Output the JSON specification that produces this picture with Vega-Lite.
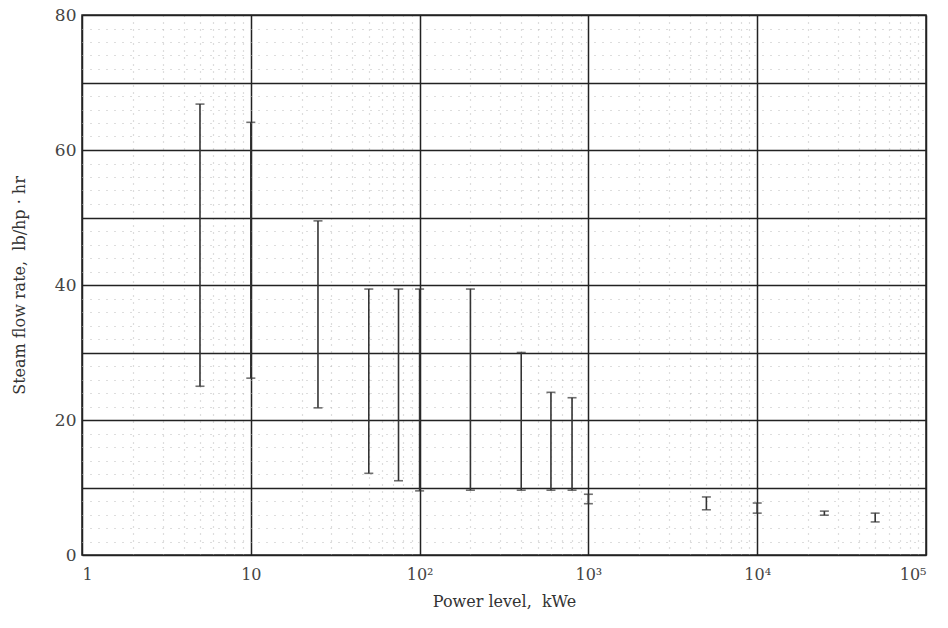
{
  "$schema": "https://vega.github.io/schema/vega-lite/v6.json",
  "width": 844,
  "height": 540,
  "autosize": {"type": "none"},
  "padding": {"left": 82, "top": 15, "right": 22, "bottom": 73},
  "background": "white",
  "config": {
    "view": {"stroke": "#222", "strokeWidth": 1.5},
    "font": "DejaVu Serif",
    "axis": {"labelFont": "DejaVu Serif", "titleFont": "DejaVu Serif", "labelColor": "#444", "titleColor": "#333", "titleFontWeight": "normal"}
  },
  "data": {
    "values": [
      {"power": 5, "lo": 25.0, "hi": 66.8},
      {"power": 10, "lo": 26.2, "hi": 64.1},
      {"power": 25, "lo": 21.8, "hi": 49.5},
      {"power": 50, "lo": 12.1, "hi": 39.4},
      {"power": 75, "lo": 11.0, "hi": 39.4},
      {"power": 100, "lo": 9.5, "hi": 39.4},
      {"power": 200, "lo": 9.6, "hi": 39.4},
      {"power": 400, "lo": 9.6, "hi": 30.0},
      {"power": 600, "lo": 9.6, "hi": 24.1},
      {"power": 800, "lo": 9.6, "hi": 23.3},
      {"power": 1000, "lo": 7.6, "hi": 9.0},
      {"power": 5000, "lo": 6.7, "hi": 8.6},
      {"power": 10000, "lo": 6.2, "hi": 7.7},
      {"power": 25000, "lo": 5.9, "hi": 6.5},
      {"power": 50000, "lo": 4.9, "hi": 6.2}
    ]
  },
  "resolve": {"axis": {"x": "independent", "y": "independent"}},
  "layer": [
    {
      "mark": {"type": "rule", "color": "#888", "strokeWidth": 0},
      "encoding": {
        "x": {"field": "power", "type": "quantitative",
          "scale": {"type": "log", "domain": [1, 100000], "nice": false},
          "axis": {"orient": "bottom", "values": [2,3,4,5,6,7,8,9,20,30,40,50,60,70,80,90,200,300,400,500,600,700,800,900,2000,3000,4000,5000,6000,7000,8000,9000,20000,30000,40000,50000,60000,70000,80000,90000],
            "labels": false, "ticks": false, "domain": false, "title": null,
            "grid": true, "gridColor": "#bbb", "gridDash": [1, 6], "gridWidth": 1.2}},
        "y": {"field": "lo", "type": "quantitative",
          "scale": {"domain": [0, 80], "nice": false},
          "axis": {"orient": "left", "values": [2,4,6,8,12,14,16,18,22,24,26,28,32,34,36,38,42,44,46,48,52,54,56,58,62,64,66,68,72,74,76,78],
            "labels": false, "ticks": false, "domain": false, "title": null,
            "grid": true, "gridColor": "#bbb", "gridDash": [1, 7], "gridWidth": 1.2}}
      }
    },
    {
      "mark": {"type": "rule", "color": "#333", "strokeWidth": 1.6},
      "encoding": {
        "x": {"field": "power", "type": "quantitative",
          "axis": {"orient": "bottom", "values": [1, 10, 100, 1000, 10000, 100000],
            "labelExpr": "datum.value == 1 ? '1' : datum.value == 10 ? '10' : datum.value == 100 ? '10²' : datum.value == 1000 ? '10³' : datum.value == 10000 ? '10⁴' : '10⁵'",
            "labelFontSize": 16, "labelPadding": 11, "ticks": false, "domain": false,
            "grid": true, "gridColor": "#222", "gridWidth": 1.5,
            "title": "Power level,\u00a0 kWe", "titleFontSize": 16, "titlePadding": 11}},
        "y": {"field": "lo", "type": "quantitative",
          "axis": {"orient": "left", "values": [0, 10, 20, 30, 40, 50, 60, 70, 80],
            "labelExpr": "datum.value % 20 == 0 ? datum.label : ''",
            "labelFontSize": 17, "labelPadding": 6, "ticks": false, "domain": false,
            "grid": true, "gridColor": "#222", "gridWidth": 1.5,
            "title": "Steam flow rate,\u00a0 lb/hp · hr", "titleFontSize": 16, "titlePadding": 27}},
        "y2": {"field": "hi"}
      }
    },
    {
      "mark": {"type": "tick", "orient": "horizontal", "color": "#333", "thickness": 1.6, "size": 9},
      "encoding": {
        "x": {"field": "power", "type": "quantitative", "axis": null},
        "y": {"field": "lo", "type": "quantitative", "axis": null}
      }
    },
    {
      "mark": {"type": "tick", "orient": "horizontal", "color": "#333", "thickness": 1.6, "size": 9},
      "encoding": {
        "x": {"field": "power", "type": "quantitative", "axis": null},
        "y": {"field": "hi", "type": "quantitative", "axis": null}
      }
    }
  ]
}
